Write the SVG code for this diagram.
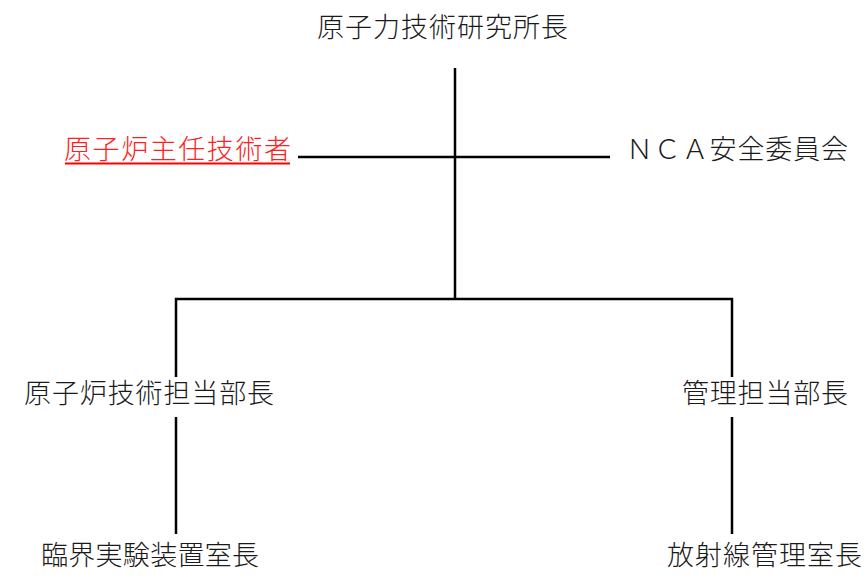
<svg xmlns="http://www.w3.org/2000/svg" width="866" height="578" viewBox="0 0 866 578">
<style>
text{font-family:"Noto Sans CJK JP","Noto Sans CJK SC",sans-serif;font-size:27px;font-weight:300;fill:#1a1a1a}
.red{fill:#ff2020}
.ln{stroke:#000;stroke-width:2.5;fill:none}
</style>
<rect width="866" height="578" fill="#fff"/>
<g id="connectors">
<line class="ln" x1="455" y1="68" x2="455" y2="300"/>
<line class="ln" x1="298" y1="157" x2="610" y2="157"/>
<polyline class="ln" points="176,377 176,299 732,299 732,377"/>
<line class="ln" x1="176" y1="417" x2="176" y2="534"/>
<line class="ln" x1="732" y1="417" x2="732" y2="534"/>
</g>
<g id="director"><text x="317" y="37" textLength="251" lengthAdjust="spacing">原子力技術研究所長</text></g>
<g id="chief-engineer"><text class="red" x="64" y="159" textLength="227" lengthAdjust="spacing">原子炉主任技術者</text>
<line x1="65" y1="163.5" x2="290" y2="163.5" stroke="#ff0000" stroke-width="2"/></g>
<g id="nca"><text x="626" y="159" textLength="222" lengthAdjust="spacing">ＮＣＡ安全委員会</text></g>
<g id="reactor-dept"><text x="24" y="403" textLength="250" lengthAdjust="spacing">原子炉技術担当部長</text></g>
<g id="admin-dept"><text x="682" y="403" textLength="166" lengthAdjust="spacing">管理担当部長</text></g>
<g id="critical-lab"><text x="41" y="565" textLength="218" lengthAdjust="spacing">臨界実験装置室長</text></g>
<g id="radiation-lab"><text x="667" y="565" textLength="195" lengthAdjust="spacing">放射線管理室長</text></g>
</svg>
